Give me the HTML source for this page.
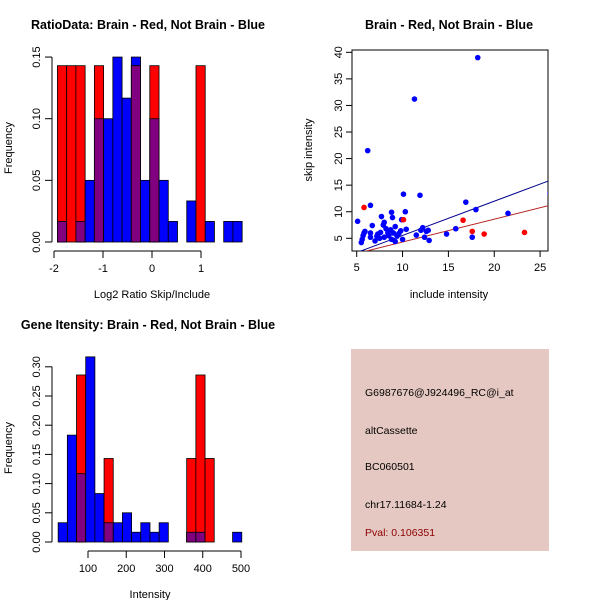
<!DOCTYPE html>
<html><head><meta charset="utf-8"><style>
body{margin:0;background:#fff}
svg{display:block;font-family:"Liberation Sans",sans-serif}
</style></head><body>
<svg id="s" width="600" height="600" viewBox="0 0 600 600"></svg>
<script>
// Ratio histogram data
const ratioBinStart = -1.93, ratioBinWidth = 0.1885;
const ratioBlue = [0.0167,0,0.0167,0.05,0.1,0.1,0.15,0.1167,0.15,0.05,0.1,0.05,0.0167,0,0.0333,0,0.0167,0,0.0167,0.0167];
const ratioRed  = [0.143,0.143,0.143,0,0.143,0,0,0,0.143,0,0.143,0,0,0,0,0.143,0,0,0,0];
const ratioXTicks = [-2,-1,0,1];
const ratioYTicks = [0,0.05,0.10,0.15];
const ratioYLabels = ["0.00","0.05","0.10","0.15"];
// Intensity histogram data
const intBinStart = 22, intBinWidth = 24;
const intBlue = [0.033,0.183,0.117,0.317,0.083,0.033,0.033,0.05,0.0167,0.033,0.0167,0.033,0,0,0.0167,0.0167,0,0,0,0.0167];
const intRed  = [0,0,0.286,0,0,0.143,0,0,0,0,0,0,0,0,0.143,0.286,0.143,0,0,0];
const intXTicks = [100,200,300,400,500];
const intYTicks = [0,0.05,0.10,0.15,0.20,0.25,0.30];
const intYLabels = ["0.00","0.05","0.10","0.15","0.20","0.25","0.30"];
// Scatter data
const blueX = [5.1,5.5,5.6,5.7,5.8,5.9,6.2,6.5,6.5,6.5,6.7,7.0,7.2,7.3,7.5,7.6,7.7,7.9,8.0,8.0,8.2,8.4,8.5,8.7,8.8,8.8,8.9,9.0,9.2,9.2,9.4,9.6,9.8,9.9,10.0,10.1,10.3,10.4,11.3,11.5,11.9,12.0,12.2,12.4,12.6,12.8,12.9,14.8,15.8,16.9,17.6,18.0,18.2,21.5,26.1];
const blueY = [8.2,4.2,4.8,5.5,6.0,6.3,21.5,11.2,6.0,5.2,7.4,4.5,5.4,5.8,5.0,6.1,9.1,7.5,8.0,5.2,6.8,6.0,5.5,6.6,9.9,4.8,8.9,6.0,7.2,4.4,5.4,5.9,6.4,8.5,4.8,13.3,10.0,6.7,31.2,5.6,13.1,6.5,7.0,5.2,6.3,6.5,4.6,5.8,6.8,11.8,5.2,10.4,39.0,9.7,13.5];
const redX = [5.8,10.1,16.6,17.6,18.9,23.3];
const redY = [10.8,8.5,8.4,6.3,5.8,6.1];
const blueFit = [0.644,-0.9];
const redFit = [0.43,0.0];
const scXTicks = [5,10,15,20,25];
const scYTicks = [5,10,15,20,25,30,35,40];

const s = document.getElementById('s');
const NS = 'http://www.w3.org/2000/svg';
function mk(tag, at, parent){const e=document.createElementNS(NS,tag);for(const k in at)e.setAttribute(k,at[k]);(parent||s).appendChild(e);return e;}
function txt(x,y,t,at){const e=mk('text',Object.assign({x:x,y:y,'font-size':11,'text-anchor':'middle',fill:'#000'},at||{}));e.textContent=t;return e;}

function hist(cfg){
  const g=mk('g',{});
  
  
  const xs=v=>cfg.x0+(v-cfg.xv0)*cfg.kx, ys=v=>cfg.y0-v*cfg.ky;
  for(let i=0;i<cfg.blue.length;i++){
    const a=xs(cfg.start+i*cfg.w), b=xs(cfg.start+(i+1)*cfg.w);
    const bl=cfg.blue[i], rd=cfg.red[i];
    const draw=(h,col,nm)=>{ if(h<=0)return; const r=mk('rect',{x:a,y:ys(h),width:b-a,height:ys(0)-ys(h),fill:col,stroke:'#000','stroke-width':0.8},g);
      
      };
    draw(bl,'#0000ff','bar-blue');
    draw(rd,'#ff0000','bar-red');
    draw(Math.min(bl,rd),'#800080','bar-overlap');
  }
  // y axis
  const ya=mk('g',{});  
  const yt=cfg.yTicks;
  mk('line',{x1:cfg.yAxX,x2:cfg.yAxX,y1:ys(yt[0]),y2:ys(yt[yt.length-1]),stroke:'#000'},ya);
  yt.forEach((v,i)=>{mk('line',{x1:cfg.yAxX-7,x2:cfg.yAxX,y1:ys(v),y2:ys(v),stroke:'#000'},ya);
    const t=txt(cfg.yAxX-12,ys(v),cfg.yLabels[i],{transform:`rotate(-90 ${cfg.yAxX-12} ${ys(v)})`}); ya.appendChild(t);});
  const xa=mk('g',{});  
  const xt=cfg.xTicks;
  mk('line',{x1:xs(xt[0]),x2:xs(xt[xt.length-1]),y1:cfg.xAxY,y2:cfg.xAxY,stroke:'#000'},xa);
  xt.forEach(v=>{mk('line',{x1:xs(v),x2:xs(v),y1:cfg.xAxY,y2:cfg.xAxY+7,stroke:'#000'},xa);
    xa.appendChild(txt(xs(v),cfg.xAxY+21,String(v)));});
}

hist({name:'ratio-histogram',x0:152,xv0:0,kx:49,y0:242,ky:1233,start:ratioBinStart,w:ratioBinWidth,blue:ratioBlue,red:ratioRed,
  yTicks:ratioYTicks,yLabels:ratioYLabels,xTicks:ratioXTicks,yAxX:52,xAxY:251});
hist({name:'intensity-histogram',x0:88,xv0:100,kx:0.3825,y0:542,ky:584,start:intBinStart,w:intBinWidth,blue:intBlue,red:intRed,
  yTicks:intYTicks,yLabels:intYLabels,xTicks:intXTicks,yAxX:52,xAxY:551});

// titles & labels
let t;
t=txt(148,29,'RatioData: Brain - Red, Not Brain - Blue',{'font-weight':'bold','font-size':12.5});  
t=txt(152,298,'Log2 Ratio Skip/Include');  
t=txt(12,148,'Frequency',{transform:'rotate(-90 12 148)'});  
t=txt(148,329,'Gene Itensity: Brain - Red, Not Brain - Blue',{'font-weight':'bold','font-size':12.5});  
t=txt(150,598,'Intensity');  
t=txt(12,448,'Frequency',{transform:'rotate(-90 12 448)'});  
t=txt(449,29,'Brain - Red, Not Brain - Blue',{'font-weight':'bold','font-size':12.5});  
t=txt(449,298,'include intensity');  
t=txt(312,150,'skip intensity',{transform:'rotate(-90 312 150)'});  

// scatter
const L=352,R=548,T=50,B=251;
const sx=v=>356.7+(v-5)*9.17, sy=v=>238.3-(v-5)*5.314;
const sg=mk('g',{});  
mk('defs',{},sg).innerHTML='<clipPath id="cp"><rect x="352" y="50" width="196" height="201"/></clipPath>';
const box=mk('rect',{x:L,y:T,width:R-L,height:B-T,fill:'none',stroke:'#000'},sg);
 
const ax=mk('g',{},sg);  
scXTicks.forEach(v=>{mk('line',{x1:sx(v),x2:sx(v),y1:B,y2:B+6,stroke:'#000'},ax); ax.appendChild(txt(sx(v),B+20,String(v)));});
const ay=mk('g',{},sg);  
scYTicks.forEach(v=>{mk('line',{x1:L-6,x2:L,y1:sy(v),y2:sy(v),stroke:'#000'},ay); ay.appendChild(txt(L-10,sy(v),String(v),{transform:`rotate(-90 ${L-10} ${sy(v)})`}));});
const cg=mk('g',{'clip-path':'url(#cp)'},sg);
function fit(f,col,nm){const x1=4,x2=28;const l=mk('line',{x1:sx(x1),y1:sy(f[0]*x1+f[1]),x2:sx(x2),y2:sy(f[0]*x2+f[1]),stroke:col,'stroke-width':1},cg);
   }
fit(blueFit,'#00008b','blue-fit-line');
fit(redFit,'#b22222','red-fit-line');
blueX.forEach((x,i)=>{const c=mk('circle',{cx:sx(x),cy:sy(blueY[i]),r:2.8,fill:'#0000ff'},cg);
   });
redX.forEach((x,i)=>{const c=mk('circle',{cx:sx(x),cy:sy(redY[i]),r:2.8,fill:'#ff0000'},cg);
   });

// info box
const ig=mk('g',{});  
mk('rect',{x:351,y:349,width:198,height:202,fill:'#e6c8c2'},ig);
const lines=[['G6987676@J924496_RC@i_at',396,'#000','probe-id'],['altCassette',434,'#000','event-type'],['BC060501',470,'#000','accession'],['chr17.11684-1.24',508,'#000','location'],['Pval: 0.106351',536,'#8b0000','pvalue']];
lines.forEach(l=>{const e=txt(365,l[1],l[0],{'text-anchor':'start',fill:l[2],'font-size':10.5}); ig.appendChild(e);
   });
</script>
</body></html>
